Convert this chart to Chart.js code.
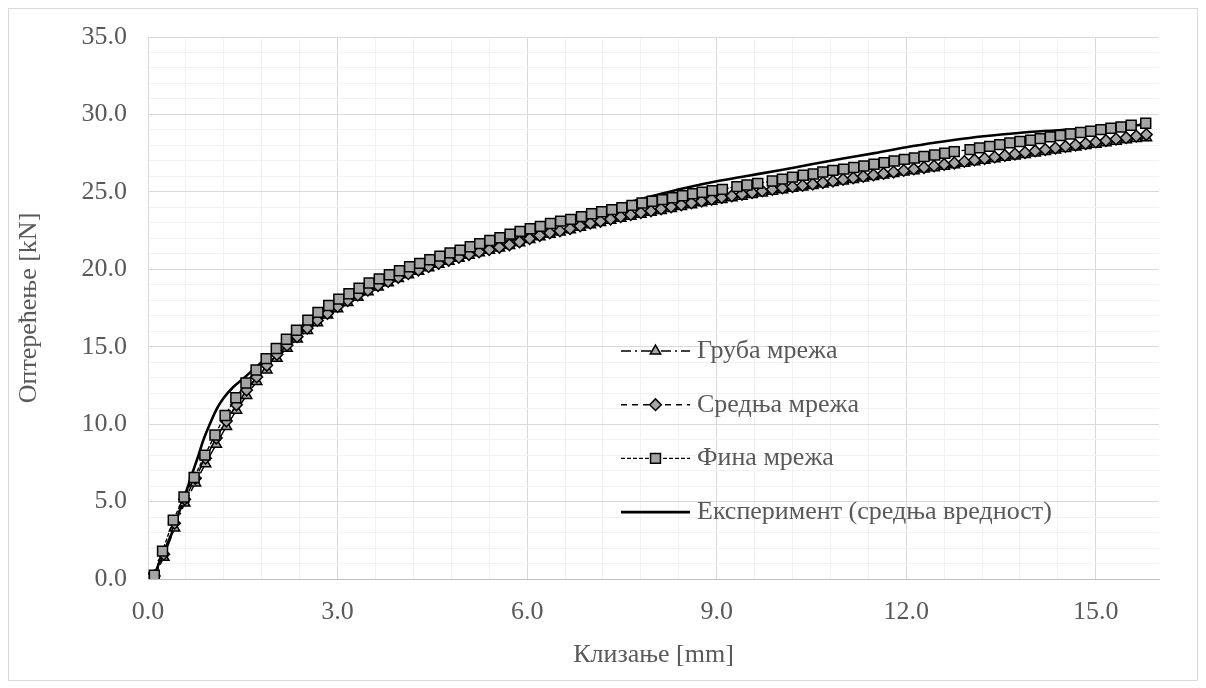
<!DOCTYPE html>
<html>
<head>
<meta charset="utf-8">
<script src="https://cdn.jsdelivr.net/npm/chart.js@4.4.1/dist/chart.umd.min.js"></script>
<style>
  html, body { margin: 0; padding: 0; background: #ffffff; }
  #wrap { width: 1206px; height: 688px; }
</style>
</head>
<body>
<div id="wrap"><canvas id="chart" width="1206" height="688"></canvas></div>
<script>
// Slip [mm] at each load step of the fine-mesh model
const slipFine = [0, 0.1, 0.23, 0.4, 0.57, 0.73, 0.9, 1.06, 1.22, 1.39,
  1.55, 1.71, 1.87, 2.03, 2.19, 2.35, 2.53, 2.69, 2.86, 3.02,
  3.18, 3.34, 3.5, 3.66, 3.82, 3.98, 4.14, 4.3, 4.46, 4.62,
  4.78, 4.94, 5.1, 5.25, 5.41, 5.57, 5.73, 5.89, 6.05, 6.21,
  6.37, 6.53, 6.69, 6.86, 7.02, 7.18, 7.34, 7.5, 7.66, 7.82,
  7.98, 8.14, 8.3, 8.46, 8.62, 8.77, 8.93, 9.09, 9.32, 9.48,
  9.65, 9.88, 10.04, 10.2, 10.37, 10.53, 10.68, 10.84, 11.01, 11.17,
  11.33, 11.49, 11.65, 11.81, 11.97, 12.13, 12.28, 12.45, 12.61, 12.76,
  13.01, 13.16, 13.32, 13.48, 13.64, 13.8, 13.97, 14.12, 14.28, 14.44,
  14.6, 14.76, 14.92, 15.08, 15.24, 15.4, 15.56, 15.79];
// Load [kN], fine mesh
const loadFine = [0, 0.25, 1.8, 3.8, 5.3, 6.55, 8.0, 9.3, 10.56, 11.7,
  12.66, 13.5, 14.23, 14.88, 15.48, 16.06, 16.72, 17.22, 17.66, 18.07,
  18.42, 18.78, 19.11, 19.38, 19.65, 19.91, 20.16, 20.38, 20.62, 20.85,
  21.06, 21.24, 21.46, 21.66, 21.86, 22.04, 22.27, 22.45, 22.62, 22.77,
  22.96, 23.11, 23.22, 23.4, 23.59, 23.72, 23.85, 23.98, 24.13, 24.28,
  24.39, 24.5, 24.62, 24.75, 24.88, 24.97, 25.08, 25.16, 25.34, 25.44,
  25.55, 25.7, 25.82, 25.95, 26.07, 26.15, 26.28, 26.39, 26.47, 26.57,
  26.67, 26.78, 26.89, 26.99, 27.1, 27.19, 27.28, 27.38, 27.49, 27.6,
  27.73, 27.84, 27.94, 28.05, 28.16, 28.25, 28.33, 28.44, 28.55, 28.64,
  28.74, 28.83, 28.91, 29.02, 29.11, 29.19, 29.3, 29.43];

// Slip [mm] at each load step of the coarse and medium mesh models
const slipMesh = [0, 0.1, 0.25, 0.42, 0.58, 0.75, 0.91, 1.08,
  1.24, 1.4, 1.56, 1.72, 1.88, 2.04, 2.2, 2.36, 2.52, 2.68,
  2.84, 3.0, 3.16, 3.32, 3.48, 3.64, 3.8, 3.96, 4.12, 4.28,
  4.44, 4.6, 4.76, 4.92, 5.08, 5.24, 5.4, 5.56, 5.72, 5.88,
  6.04, 6.2, 6.36, 6.52, 6.68, 6.84, 7.0, 7.16, 7.32, 7.48,
  7.64, 7.8, 7.96, 8.12, 8.28, 8.44, 8.6, 8.76, 8.92, 9.08,
  9.24, 9.4, 9.56, 9.72, 9.88, 10.04, 10.2, 10.36, 10.52, 10.68,
  10.84, 11.0, 11.16, 11.32, 11.48, 11.64, 11.8, 11.96, 12.12, 12.28,
  12.44, 12.6, 12.76, 12.92, 13.08, 13.24, 13.4, 13.56, 13.72, 13.88,
  14.04, 14.2, 14.36, 14.52, 14.68, 14.84, 15.0, 15.16, 15.32, 15.48,
  15.64, 15.8];
// Load [kN], medium mesh
const loadMedium = [0, 0.2, 1.6, 3.6, 5.15, 6.5, 7.8, 9.1,
  10.2, 11.25, 12.2, 13.05, 13.8, 14.5, 15.1, 15.65, 16.2, 16.7,
  17.15, 17.6, 17.98, 18.33, 18.65, 18.95, 19.22, 19.48, 19.72, 19.95,
  20.17, 20.38, 20.58, 20.77, 20.95, 21.12, 21.27, 21.42, 21.58, 21.77,
  21.98, 22.18, 22.35, 22.48, 22.62, 22.8, 22.98, 23.1, 23.24, 23.4,
  23.53, 23.65, 23.77, 23.9, 24.03, 24.16, 24.28, 24.4, 24.52, 24.63,
  24.74, 24.84, 24.95, 25.06, 25.16, 25.25, 25.33, 25.41, 25.5, 25.6,
  25.7, 25.8, 25.9, 26.0, 26.09, 26.19, 26.28, 26.38, 26.48, 26.57,
  26.67, 26.77, 26.86, 26.96, 27.06, 27.15, 27.25, 27.35, 27.44, 27.54,
  27.64, 27.73, 27.83, 27.93, 28.02, 28.12, 28.22, 28.31, 28.41, 28.5,
  28.6, 28.7];
// Load [kN], coarse mesh
const loadCoarse = [0, 0.15, 1.4, 3.3, 4.9, 6.2, 7.45, 8.7,
  9.85, 10.9, 11.85, 12.75, 13.5, 14.25, 14.9, 15.5, 16.05, 16.55,
  17.05, 17.45, 17.85, 18.2, 18.55, 18.85, 19.13, 19.4, 19.65, 19.88,
  20.1, 20.32, 20.52, 20.72, 20.9, 21.07, 21.23, 21.38, 21.54, 21.72,
  21.92, 22.1, 22.27, 22.41, 22.56, 22.72, 22.88, 23.02, 23.16, 23.3,
  23.43, 23.56, 23.68, 23.8, 23.93, 24.05, 24.17, 24.29, 24.4, 24.51,
  24.62, 24.72, 24.83, 24.93, 25.04, 25.14, 25.23, 25.32, 25.41, 25.51,
  25.61, 25.7, 25.8, 25.9, 25.99, 26.09, 26.18, 26.28, 26.37, 26.47,
  26.56, 26.66, 26.75, 26.85, 26.94, 27.04, 27.13, 27.23, 27.32, 27.42,
  27.51, 27.61, 27.7, 27.8, 27.89, 27.99, 28.08, 28.17, 28.27, 28.36,
  28.45, 28.5];

// Push-out test, mean curve
const slipTest = [0, 0.1, 0.19, 0.3, 0.4, 0.5, 0.56, 0.65, 0.72, 0.8,
  0.87, 1.0, 1.09, 1.2, 1.35, 1.51, 1.7, 2.0, 2.5, 3.0,
  3.5, 4.0, 4.5, 5.0, 5.5, 6.0, 6.5, 7.0, 7.5, 8.0,
  8.5, 9.0, 9.5, 10.0, 10.5, 11.0, 11.5, 12.0, 12.5, 13.0,
  13.5, 14.0, 14.5, 15.0, 15.5, 15.8];
const loadTest = [0, 0.25, 1.2, 2.2, 3.2, 4.4, 5.1, 6.2, 7.05, 8.0,
  8.9, 10.2, 11.0, 11.7, 12.4, 12.95, 13.65, 14.65, 16.15, 17.45,
  18.55, 19.5, 20.3, 21.0, 21.6, 22.2, 22.95, 23.6, 24.2, 24.75,
  25.25, 25.68, 26.04, 26.4, 26.78, 27.15, 27.5, 27.88, 28.2, 28.48,
  28.7, 28.88, 29.0, 29.1, 29.25, 29.35];

const seriesNames = ['Груба мрежа', 'Средња мрежа', 'Фина мрежа', 'Експеримент (средња вредност)'];
const xTitle = 'Клизање [mm]';
const yTitle = 'Оптерећење [kN]';

const FONT = "'Liberation Serif', 'Times New Roman', serif";
const TEXT = '#595959';
const MARKER_FILL = '#a5a5a5';

const pts = (xs, ys) => xs.map((x, i) => ({ x: x, y: ys[i] }));
const isMult = (v, m) => Math.abs(v / m - Math.round(v / m)) < 1e-6;

const markerSeries = (label, xs, ys, style, radius, dash) => ({
  label: label,
  data: pts(xs, ys),
  showLine: true,
  borderColor: '#000000',
  borderWidth: 1.4,
  borderDash: dash,
  pointStyle: style,
  pointRadius: radius,
  pointBackgroundColor: MARKER_FILL,
  pointBorderColor: '#000000',
  pointBorderWidth: 1.5,
  tension: 0
});

// Drawn bottom-up: test curve first, fine mesh on top
const datasets = [
  markerSeries(seriesNames[2], slipFine, loadFine, 'rect', 7, [4, 2]),
  markerSeries(seriesNames[1], slipMesh, loadMedium, 'rectRot', 5.8, [6, 5]),
  markerSeries(seriesNames[0], slipMesh, loadCoarse, 'triangle', 6, [10, 4, 2, 4]),
  {
    label: seriesNames[3],
    data: pts(slipTest, loadTest),
    showLine: true,
    borderColor: '#000000',
    borderWidth: 2.6,
    pointRadius: 0,
    cubicInterpolationMode: 'monotone'
  }
];

// Legend drawn inside the plot area, one row per series
const legendRows = [
  { ds: 2, name: seriesNames[0] },
  { ds: 1, name: seriesNames[1] },
  { ds: 0, name: seriesNames[2] },
  { ds: 3, name: seriesNames[3] }
];
const insideLegend = {
  id: 'insideLegend',
  afterDatasetsDraw(chart, args, opts) {
    const ctx = chart.ctx;
    legendRows.forEach((row, i) => {
      const ds = chart.data.datasets[row.ds];
      const y = opts.top + i * opts.rowGap;
      ctx.save();
      ctx.strokeStyle = ds.borderColor;
      ctx.lineWidth = ds.borderWidth;
      ctx.setLineDash(ds.borderDash || []);
      ctx.beginPath();
      ctx.moveTo(opts.lineX0, y);
      ctx.lineTo(opts.lineX1, y);
      ctx.stroke();
      ctx.setLineDash([]);
      if (ds.pointRadius > 0) {
        ctx.fillStyle = ds.pointBackgroundColor;
        ctx.strokeStyle = ds.pointBorderColor;
        ctx.lineWidth = ds.pointBorderWidth;
        Chart.helpers.drawPoint(ctx, {
          pointStyle: ds.pointStyle, radius: ds.pointRadius, rotation: 0, borderWidth: ds.pointBorderWidth
        }, (opts.lineX0 + opts.lineX1) / 2, y);
      }
      ctx.fillStyle = TEXT;
      ctx.font = opts.fontSize + 'px ' + FONT;
      ctx.textAlign = 'left';
      ctx.textBaseline = 'middle';
      ctx.fillText(row.name, opts.textX, y);
      ctx.restore();
    });
  }
};

// White page with a thin outer frame
const frame = {
  id: 'frame',
  beforeDraw(chart) {
    const ctx = chart.ctx;
    ctx.save();
    ctx.fillStyle = '#ffffff';
    ctx.fillRect(0, 0, chart.width, chart.height);
    ctx.strokeStyle = '#d9d9d9';
    ctx.lineWidth = 1;
    ctx.strokeRect(8.5, 8.5, 1189, 672);
    ctx.restore();
  }
};

new Chart(document.getElementById('chart'), {
  type: 'scatter',
  data: { datasets: datasets },
  plugins: [frame, insideLegend],
  options: {
    responsive: false,
    animation: false,
    devicePixelRatio: 1,
    layout: { padding: { left: 0, top: 37, right: 47, bottom: 0 } },
    plugins: {
      legend: { display: false },
      tooltip: { enabled: false },
      insideLegend: { top: 351, rowGap: 53.7, lineX0: 621, lineX1: 690, textX: 697, fontSize: 26 }
    },
    scales: {
      x: {
        type: 'linear',
        min: 0,
        max: 16,
        afterFit(scale) { scale.height = 109; },
        ticks: {
          stepSize: 0.6,
          autoSkip: false,
          maxRotation: 0,
          padding: 18,
          color: TEXT,
          font: { family: FONT, size: 26 },
          callback: (v) => isMult(v, 3) ? v.toFixed(1) : ''
        },
        grid: {
          drawTicks: false,
          lineWidth: 1,
          color: (c) => (c.tick && isMult(c.tick.value, 0.6)) ? (isMult(c.tick.value, 3) ? '#d9d9d9' : '#f2f2f2') : 'rgba(0,0,0,0)'
        },
        border: { display: true, color: '#bfbfbf', width: 1 },
        title: {
          display: true,
          text: xTitle,
          color: TEXT,
          font: { family: FONT, size: 26 },
          padding: { top: 0, bottom: 17 }
        }
      },
      y: {
        type: 'linear',
        min: 0,
        max: 35,
        afterFit(scale) { scale.width = 148; },
        ticks: {
          stepSize: 1,
          autoSkip: false,
          padding: 21,
          color: TEXT,
          font: { family: FONT, size: 26 },
          callback: (v) => isMult(v, 5) ? v.toFixed(1) : ''
        },
        grid: {
          drawTicks: false,
          lineWidth: 1,
          color: (c) => (c.tick && isMult(c.tick.value, 5)) ? '#d9d9d9' : '#f2f2f2'
        },
        border: { display: true, color: '#d9d9d9', width: 1 },
        title: {
          display: true,
          text: yTitle,
          color: TEXT,
          font: { family: FONT, size: 26 },
          padding: { top: 14, bottom: 0 }
        }
      }
    }
  }
});
</script>
</body>
</html>
